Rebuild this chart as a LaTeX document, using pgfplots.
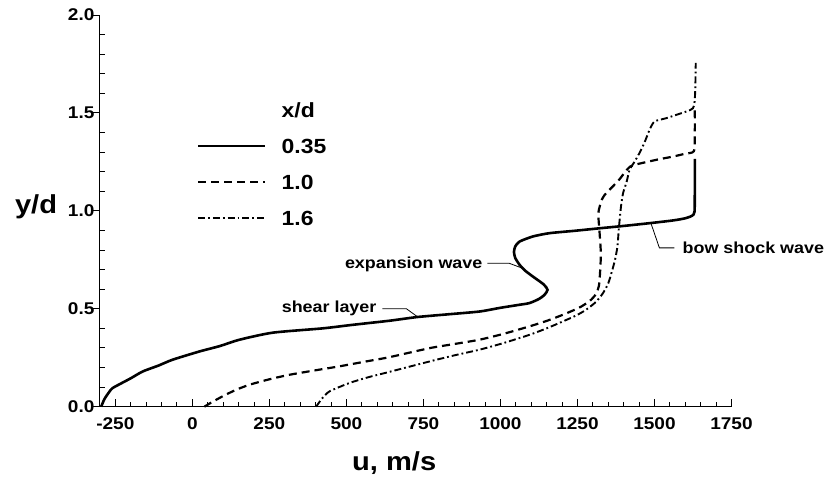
\documentclass[border=0pt]{standalone}
\usepackage{fontspec}
\setmainfont{Liberation Sans}[FakeStretch=1.12]
\usepackage{pgfplots}
\pgfplotsset{compat=1.18}
\begin{document}
\begin{tikzpicture}
\begin{axis}[
  scale only axis, width=632pt, height=392pt,
  xmin=-300, xmax=1750, ymin=0, ymax=2,
  clip=false,
  axis lines=left, axis line style={-, line width=1.1pt},
  xtick={-250,0,250,500,750,1000,1250,1500,1750},
  xticklabels={-250,0,250,500,750,1000,1250,1500,1750},
  ytick={0,0.5,1,1.5,2}, yticklabels={0.0,0.5,1.0,1.5,2.0},
  minor x tick num=4, minor y tick num=4,
  tick align=inside,
  major tick length=8pt, minor tick length=5pt,
  tick style={line width=0.9pt, black},
  major y tick style={xshift=-8pt},
  ticklabel style={font=\bfseries\fontsize{17}{17}\selectfont},
  xticklabel style={yshift=-7pt},
  yticklabel style={xshift=-2pt},
  xlabel={u, m/s}, ylabel={y/d},
  xlabel style={font=\bfseries\fontsize{26}{26}\selectfont, at={(ticklabel cs:0.466)}, yshift=-16pt},
  ylabel style={font=\bfseries\fontsize{26}{26}\selectfont, rotate=-90, at={(ticklabel cs:0.51)}, anchor=east, xshift=-4pt},
  legend cell align=left,
  legend style={draw=none, fill=none, at={(axis cs:6,1.564)}, anchor=north west,
    font=\bfseries\fontsize{20.5}{20.5}\selectfont, row sep=21pt,
    nodes={inner sep=0pt, text height=15pt, text depth=0pt},
    /tikz/every odd column/.append style={column sep=16pt}},
  legend image code/.code={\draw[#1, line width=1.4pt] (0pt,0pt) -- (67pt,0pt);},
]
\addlegendimage{empty legend}
\addplot[black, line width=2.6pt, smooth, tension=0.4] coordinates {
(-296,0) (-285,0.04) (-270,0.075) (-259,0.095) (-230,0.12) (-200,0.145) (-161,0.18) (-110,0.21) (-64,0.24) (23,0.282) (90,0.31) (153,0.342) (261,0.378) (423,0.40) (520,0.418) (640,0.439) (731,0.458) (832,0.472) (932,0.486) (1000,0.505) (1060,0.52) (1094,0.529) (1125,0.55) (1143,0.571) (1153,0.597) (1140,0.625) (1105,0.665) (1080,0.695) (1062,0.725) (1048,0.76) (1044,0.79) (1048,0.818) (1062,0.843) (1105,0.869) (1159,0.886) (1240,0.898) (1322,0.911) (1400,0.923) (1484,0.937) (1560,0.951) (1600,0.962) (1622,0.975) (1630,0.995) (1631,1.1) (1631,1.265)
};
\addplot[black, line width=2.2pt, dash pattern=on 8pt off 5pt, smooth, tension=0.4] coordinates {
(39,0) (60,0.02) (98,0.053) (140,0.085) (185,0.112) (250,0.14) (315,0.163) (400,0.186) (477,0.206) (560,0.23) (640,0.253) (770,0.299) (850,0.32) (932,0.342) (1010,0.372) (1094,0.41) (1150,0.438) (1202,0.469) (1255,0.505) (1290,0.54) (1310,0.575) (1320,0.62) (1324,0.7) (1326,0.784) (1322,0.886) (1318,0.99) (1330,1.06) (1343,1.09) (1365,1.125) (1386,1.16) (1420,1.225) (1462,1.245) (1520,1.265) (1560,1.277) (1600,1.292) (1628,1.305) (1631,1.4) (1631,1.53)
};
\addplot[black, line width=1.9pt, dash pattern=on 7pt off 3pt on 1.8pt off 3pt, smooth, tension=0.4] coordinates {
(402,0) (420,0.04) (445,0.078) (510,0.121) (570,0.15) (640,0.178) (770,0.231) (850,0.262) (932,0.291) (1010,0.325) (1094,0.367) (1150,0.4) (1202,0.435) (1245,0.465) (1278,0.495) (1310,0.535) (1333,0.58) (1350,0.63) (1360,0.68) (1372,0.75) (1380,0.82) (1384,0.903) (1388,0.97) (1392,1.03) (1398,1.09) (1410,1.15) (1419,1.209) (1435,1.25) (1451,1.294) (1468,1.35) (1484,1.413) (1500,1.456) (1538,1.473) (1580,1.495) (1625,1.524) (1632,1.6) (1634,1.755)
};
\legend{x/d, 0.35, 1.0, 1.6}
\draw[line width=0.8pt] (axis cs:617,0.50) -- (axis cs:695,0.50) -- (axis cs:731,0.459);
\node[anchor=east, inner sep=0pt, font=\bfseries\fontsize{16}{16}\selectfont] at (axis cs:598,0.503) {shear layer};
\draw[line width=0.8pt] (axis cs:958,0.732) -- (axis cs:1029,0.732) -- (axis cs:1070,0.708);
\node[anchor=east, inner sep=0pt, font=\bfseries\fontsize{16}{16}\selectfont] at (axis cs:942,0.727) {expansion wave};
\draw[line width=0.8pt] (axis cs:1489,0.935) -- (axis cs:1516,0.811) -- (axis cs:1565,0.811);
\node[anchor=west, inner sep=0pt, font=\bfseries\fontsize{16}{16}\selectfont] at (axis cs:1591,0.811) {bow shock wave};
\end{axis}
\path ([xshift=-100pt,yshift=-78pt]current axis.south west) rectangle ([xshift=92pt,yshift=15pt]current axis.north east);
\end{tikzpicture}
\end{document}
